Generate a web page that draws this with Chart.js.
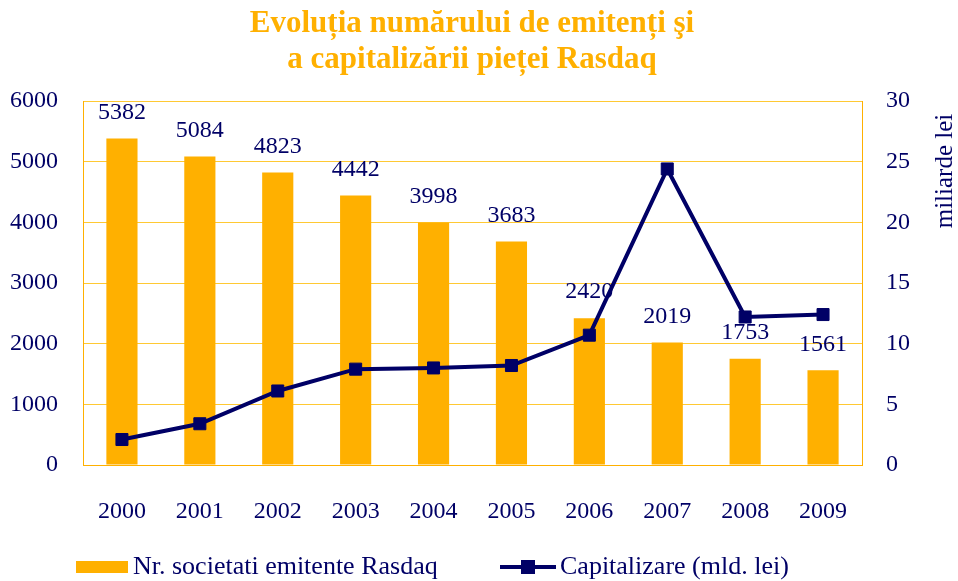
<!DOCTYPE html>
<html>
<head>
<meta charset="utf-8">
<script src="https://cdn.jsdelivr.net/npm/chart.js@4.4.0/dist/chart.umd.min.js"></script>
<style>
  html, body { margin: 0; padding: 0; background: #fff; }
  #wrap { width: 958px; height: 581px; }
</style>
</head>
<body>
<div id="wrap"><canvas id="myChart" width="958" height="581"></canvas></div>
<script>
const years = ['2000', '2001', '2002', '2003', '2004', '2005', '2006', '2007', '2008', '2009'];
const companies = [5382, 5084, 4823, 4442, 3998, 3683, 2420, 2019, 1753, 1561];
const capitalization = [2.1, 3.4, 6.1, 7.9, 8.0, 8.2, 10.7, 24.4, 12.2, 12.4];
const titleLines = ['Evoluția numărului de emitenți şi', 'a capitalizării pieței Rasdaq'];

const orange = '#FFB000';
const gridColor = '#FFC933';
const navy = '#000066';
const serif = "'Liberation Serif', 'DejaVu Serif', serif";

// titlu, etichete bare, legenda si titlul axei din dreapta
const extras = {
  id: 'extras',
  afterDraw(chart) {
    const ctx = chart.ctx;
    const barSet = chart.data.datasets[1];
    const lineSet = chart.data.datasets[0];
    ctx.save();

    ctx.fillStyle = orange;
    ctx.font = 'bold 31px ' + serif;
    ctx.textAlign = 'center';
    ctx.textBaseline = 'middle';
    ctx.fillText(titleLines[0], 472, 24);
    ctx.fillText(titleLines[1], 472, 60);

    // valori deasupra barelor
    ctx.fillStyle = navy;
    ctx.font = '24px ' + serif;
    chart.getDatasetMeta(1).data.forEach((bar, i) => {
      ctx.fillText(barSet.data[i], bar.x, bar.y - 26);
    });

    // titlu axa dreapta
    ctx.save();
    ctx.font = '25px ' + serif;
    ctx.translate(945, 171);
    ctx.rotate(-Math.PI / 2);
    ctx.fillText('miliarde lei', 0, 0);
    ctx.restore();

    // legenda
    const ly = 567;
    ctx.font = '26px ' + serif;
    ctx.fillStyle = orange;
    ctx.fillRect(76, ly - 6, 52, 12);
    ctx.fillStyle = navy;
    ctx.textAlign = 'left';
    ctx.fillText(barSet.label, 133, ly);

    ctx.strokeStyle = navy;
    ctx.lineWidth = 4;
    ctx.beginPath();
    ctx.moveTo(500, ly);
    ctx.lineTo(556, ly);
    ctx.stroke();
    ctx.fillRect(521, ly - 7, 14, 14);
    ctx.fillText(lineSet.label, 560, ly);

    ctx.restore();
  }
};

new Chart(document.getElementById('myChart'), {
  data: {
    labels: years,
    datasets: [{
      type: 'line',
      label: 'Capitalizare (mld. lei)',
      data: capitalization,
      yAxisID: 'y2',
      borderColor: navy,
      backgroundColor: navy,
      borderWidth: 4,
      pointStyle: 'rect',
      pointRadius: 8.5,
      pointBorderWidth: 1,
      tension: 0,
      order: 0
    }, {
      type: 'bar',
      label: 'Nr. societati emitente Rasdaq',
      data: companies,
      yAxisID: 'y',
      backgroundColor: orange,
      borderWidth: 0,
      categoryPercentage: 1,
      barPercentage: 0.4,
      order: 1
    }]
  },
  options: {
    responsive: false,
    animation: false,
    layout: { padding: { top: 101, bottom: 56, left: 0, right: 0 } },
    plugins: {
      legend: { display: false },
      title: { display: false },
      tooltip: { enabled: false }
    },
    scales: {
      x: {
        grid: { display: false },
        border: { display: true, color: orange, width: 1 },
        ticks: { color: navy, font: { family: serif, size: 24 }, padding: 24 },
        afterFit: (s) => { s.height = 60; }
      },
      y: {
        position: 'left',
        min: 0,
        max: 6000,
        grid: { color: gridColor, drawTicks: false },
        border: { display: true, color: orange, width: 1 },
        ticks: { stepSize: 1000, color: navy, font: { family: serif, size: 24 }, padding: 25,
          callback: (v) => String(v) },
        afterFit: (s) => { s.width = 83; }
      },
      y2: {
        position: 'right',
        min: 0,
        max: 30,
        grid: { display: false, drawTicks: false },
        border: { display: true, color: orange, width: 1 },
        ticks: { stepSize: 5, color: navy, font: { family: serif, size: 24 }, padding: 24,
          callback: (v) => String(v) },
        afterFit: (s) => { s.width = 96; }
      }
    }
  },
  plugins: [extras]
});
</script>
</body>
</html>
